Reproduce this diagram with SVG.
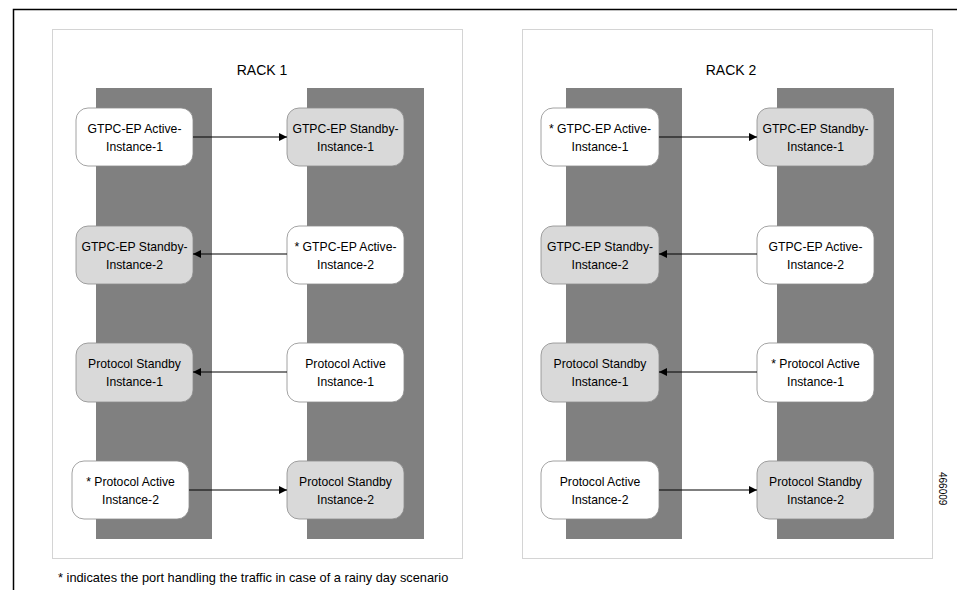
<svg xmlns="http://www.w3.org/2000/svg" width="957" height="590" viewBox="0 0 957 590">
<style>
.t{font-family:"Liberation Sans",Arial,sans-serif;font-size:12.2px;fill:#000;text-anchor:middle}
.h{font-family:"Liberation Sans",Arial,sans-serif;font-size:14px;fill:#000;text-anchor:middle}
.rack{fill:#fff;stroke:#d4d4d4;stroke-width:1}
.col{fill:#808080}
.act{fill:#fff;stroke:#8c8c8c;stroke-width:0.8}
.stb{fill:#d9d9d9;stroke:#8c8c8c;stroke-width:0.8}
.ln{stroke:#000;stroke-width:1.2;fill:none;marker-end:url(#ah)}
</style>
<defs>
<marker id="ah" viewBox="0 0 10 10" refX="10" refY="5" markerWidth="8" markerHeight="8" markerUnits="userSpaceOnUse" orient="auto">
<path d="M0,0 L10,5 L0,10 z" fill="#000"/>
</marker>
</defs>
<rect width="957" height="590" fill="#fff"/>
<path d="M13.5,590 V9.5 H957" fill="none" stroke="#000" stroke-width="1.5"/>

<g id="rack1">
<rect class="rack" x="52.5" y="29.5" width="410" height="529"/>
<text class="h" x="262" y="75">RACK 1</text>
<rect class="col" x="96" y="88" width="116" height="451"/>
<rect class="col" x="307" y="88" width="117" height="451"/>
</g>
<g id="rack2">
<rect class="rack" x="522.5" y="29.5" width="410" height="529"/>
<text class="h" x="731" y="75">RACK 2</text>
<rect class="col" x="566" y="88" width="116" height="451"/>
<rect class="col" x="777" y="88" width="117" height="451"/>
</g>

<g id="r1-gtpc-active-1"><rect class="act" x="76" y="108" width="117" height="58" rx="12"/><text class="t" x="134.5" y="133">GTPC-EP Active-</text><text class="t" x="134.5" y="151">Instance-1</text></g>
<g id="r1-gtpc-standby-1"><rect class="stb" x="287" y="108" width="117" height="58" rx="12"/><text class="t" x="345.5" y="133">GTPC-EP Standby-</text><text class="t" x="345.5" y="151">Instance-1</text></g>
<g id="r1-gtpc-standby-2"><rect class="stb" x="76" y="226" width="117" height="58" rx="12"/><text class="t" x="134.5" y="251">GTPC-EP Standby-</text><text class="t" x="134.5" y="269">Instance-2</text></g>
<g id="r1-gtpc-active-2"><rect class="act" x="287" y="226" width="117" height="58" rx="12"/><text class="t" x="345.5" y="251">* GTPC-EP Active-</text><text class="t" x="345.5" y="269">Instance-2</text></g>
<g id="r1-proto-standby-1"><rect class="stb" x="76" y="343" width="117" height="59" rx="12"/><text class="t" x="134.5" y="368">Protocol Standby</text><text class="t" x="134.5" y="386">Instance-1</text></g>
<g id="r1-proto-active-1"><rect class="act" x="287" y="343" width="117" height="59" rx="12"/><text class="t" x="345.5" y="368">Protocol Active</text><text class="t" x="345.5" y="386">Instance-1</text></g>
<g id="r1-proto-active-2"><rect class="act" x="72" y="461" width="117" height="58" rx="12"/><text class="t" x="130.5" y="486">* Protocol Active</text><text class="t" x="130.5" y="504">Instance-2</text></g>
<g id="r1-proto-standby-2"><rect class="stb" x="287" y="461" width="117" height="58" rx="12"/><text class="t" x="345.5" y="486">Protocol Standby</text><text class="t" x="345.5" y="504">Instance-2</text></g>

<g id="r2-gtpc-active-1"><rect class="act" x="541" y="108" width="118" height="58" rx="12"/><text class="t" x="600" y="133">* GTPC-EP Active-</text><text class="t" x="600" y="151">Instance-1</text></g>
<g id="r2-gtpc-standby-1"><rect class="stb" x="757" y="108" width="117" height="58" rx="12"/><text class="t" x="815.5" y="133">GTPC-EP Standby-</text><text class="t" x="815.5" y="151">Instance-1</text></g>
<g id="r2-gtpc-standby-2"><rect class="stb" x="541" y="226" width="118" height="58" rx="12"/><text class="t" x="600" y="251">GTPC-EP Standby-</text><text class="t" x="600" y="269">Instance-2</text></g>
<g id="r2-gtpc-active-2"><rect class="act" x="757" y="226" width="117" height="58" rx="12"/><text class="t" x="815.5" y="251">GTPC-EP Active-</text><text class="t" x="815.5" y="269">Instance-2</text></g>
<g id="r2-proto-standby-1"><rect class="stb" x="541" y="343" width="118" height="59" rx="12"/><text class="t" x="600" y="368">Protocol Standby</text><text class="t" x="600" y="386">Instance-1</text></g>
<g id="r2-proto-active-1"><rect class="act" x="757" y="343" width="117" height="59" rx="12"/><text class="t" x="815.5" y="368">* Protocol Active</text><text class="t" x="815.5" y="386">Instance-1</text></g>
<g id="r2-proto-active-2"><rect class="act" x="541" y="461" width="118" height="58" rx="12"/><text class="t" x="600" y="486">Protocol Active</text><text class="t" x="600" y="504">Instance-2</text></g>
<g id="r2-proto-standby-2"><rect class="stb" x="757" y="461" width="117" height="58" rx="12"/><text class="t" x="815.5" y="486">Protocol Standby</text><text class="t" x="815.5" y="504">Instance-2</text></g>

<g id="connectors">
<line class="ln" x1="193" y1="137" x2="287" y2="137"/>
<line class="ln" x1="287" y1="254" x2="193" y2="254"/>
<line class="ln" x1="287" y1="372" x2="193" y2="372"/>
<line class="ln" x1="189" y1="490" x2="287" y2="490"/>
<line class="ln" x1="659" y1="137" x2="757" y2="137"/>
<line class="ln" x1="757" y1="254" x2="659" y2="254"/>
<line class="ln" x1="757" y1="372" x2="659" y2="372"/>
<line class="ln" x1="659" y1="490" x2="757" y2="490"/>
</g>

<text x="58" y="582" style="font-family:'Liberation Sans',Arial,sans-serif;font-size:12.8px;fill:#000">* indicates the port handling the traffic in case of a rainy day scenario</text>
<text x="0" y="0" transform="translate(939,472) rotate(90)" style="font-family:'Liberation Sans',Arial,sans-serif;font-size:10px;fill:#000">466009</text>
</svg>
